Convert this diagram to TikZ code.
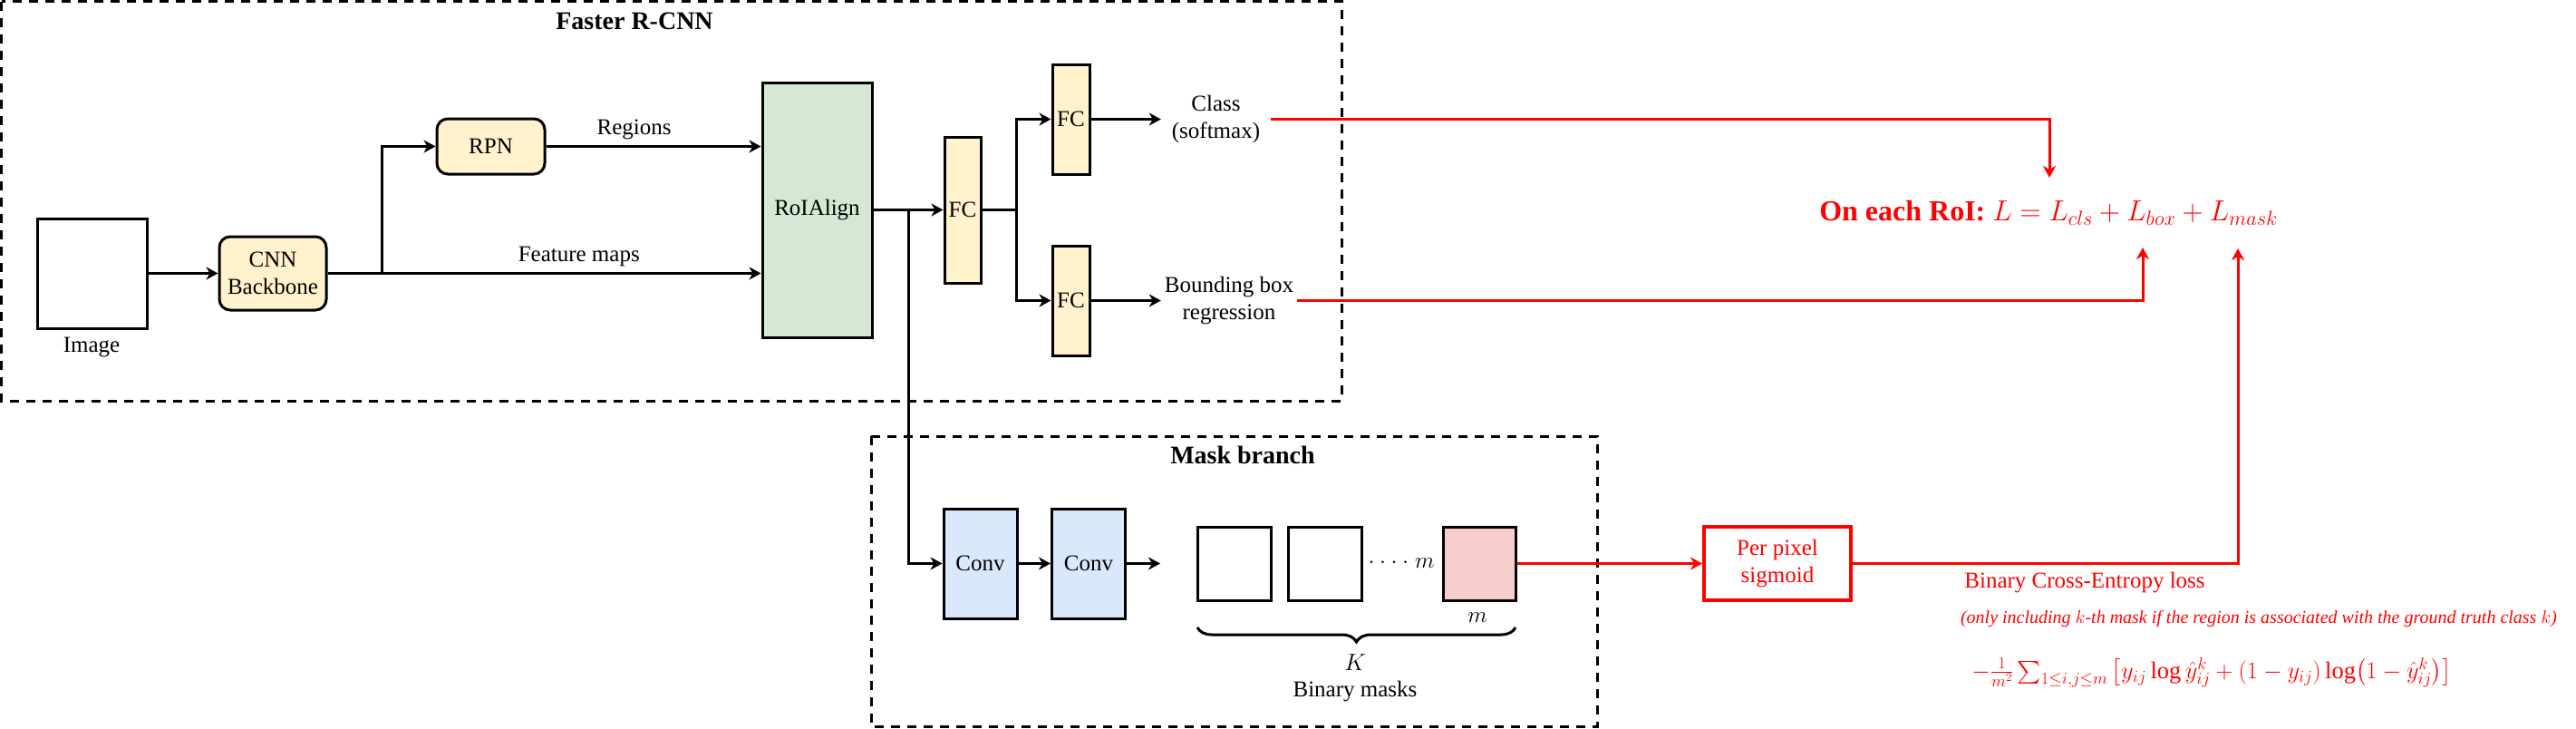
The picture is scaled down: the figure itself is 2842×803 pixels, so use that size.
\documentclass[tikz,border=0pt]{standalone}
\usepackage{fix-cm}
\usepackage{amsmath}
\usepackage{fontspec}
\setmainfont{Liberation Serif}
\usetikzlibrary{arrows.meta,decorations.pathreplacing}
\definecolor{cream}{HTML}{FFF2CC}
\definecolor{sage}{HTML}{D5E8D4}
\definecolor{skyb}{HTML}{DAE8FC}
\definecolor{rosy}{HTML}{F8CECC}
\newcommand\ftxt{\fontsize{25}{30}\selectfont}
\tikzset{
 lw/.style={line width=3pt},
 arr/.style={lw,-{Stealth[length=13pt,width=14pt,inset=4pt]}},
 rarr/.style={arr,red},
 blk/.style={draw,lw,inner sep=0pt,align=center,font=\ftxt},
 txt/.style={align=center,font=\ftxt,inner sep=0pt},
 ttl/.style={font=\bfseries\fontsize{28}{32}\selectfont,inner sep=0pt},
 grp/.style={draw,lw,dash pattern=on 10pt off 8pt},
 rtxt/.style={txt,text=red}
}
\begin{document}
\begin{tikzpicture}[x=1pt,y=-1pt]
\useasboundingbox (0,0) rectangle (2842,803);
% groups
\draw[grp] (1.5,1.5) rectangle (1480,442);
\draw[grp] (961,481) rectangle (1762,801);
\node[ttl] (t1) at (700,23) {Faster R-CNN};
\node[ttl] (t2) at (1371,502) {Mask branch};
% Faster R-CNN
\node[blk,minimum width=121,minimum height=121] (img) at (101.5,301.5) {};
\node[txt] (imgl) at (101,383) {Image};
\node[blk,fill=cream,rounded corners=12pt,minimum width=118,minimum height=81] (bbn) at (301,301.5) {CNN\\Backbone};
\node[blk,fill=cream,rounded corners=12pt,minimum width=119,minimum height=61] (rpn) at (541.5,161.5) {RPN};
\node[blk,fill=sage,minimum width=121,minimum height=281] (roi) at (901.5,231.5) {RoIAlign};
\node[blk,fill=cream,minimum width=40,minimum height=161] (fc1) at (1062,231.5) {FC};
\node[blk,fill=cream,minimum width=41,minimum height=121] (fct) at (1181.5,131.5) {FC};
\node[blk,fill=cream,minimum width=41,minimum height=121] (fcb) at (1181.5,331.5) {FC};
\node[txt,minimum width=121] (cls) at (1341.5,131.5) {Class\\(softmax)};
\node[txt,minimum width=150] (bbx) at (1356,331.5) {Bounding box\\regression};
% mask branch
\node[blk,fill=skyb,minimum width=81,minimum height=121] (cv1) at (1081.5,621.5) {Conv};
\node[blk,fill=skyb,minimum width=81,minimum height=121] (cv2) at (1201,621.5) {Conv};
\coordinate (c3) at (1280,621.5);
\node[blk,minimum width=81,minimum height=81] (m1) at (1361.5,621.5) {};
\node[blk,minimum width=81,minimum height=81] (m2) at (1461.5,621.5) {};
\node[blk,fill=rosy,minimum width=80,minimum height=81] (m3) at (1632,621.5) {};
\node[txt,font=\fontsize{25}{30}\selectfont] (dts) at (1546,621) {${\cdot}\mkern4mu{\cdot}\mkern4mu{\cdot}\mkern4mu{\cdot}\;m$};
\node[txt,font=\fontsize{25}{30}\selectfont] (mlab) at (1630,681) {$m$};
\coordinate (bl) at (1321,692);
\coordinate (br) at (1672,692);
\node[txt,font=\fontsize{26}{30}\selectfont] (kk) at (1495,731) {$K$};
\node[txt] (bm) at (1495,763) {Binary masks};
% loss part
\node[blk,draw=red,line width=4pt,text=red,minimum width=162,minimum height=81] (sig) at (1961,621.5) {Per pixel\\sigmoid};
\node[txt,text=red,font=\fontsize{32}{36}\selectfont] (loss) at (2260,235) {\textbf{On each RoI:} $L=L_{cls}+L_{box}+L_{mask}$};
\coordinate (lc) at (2261,196);
\coordinate (lb) at (2364,273);
\coordinate (lm) at (2469,274);
\node[rtxt] (bce) at (2300,643) {Binary Cross-Entropy loss};
\node[rtxt,font=\itshape\fontsize{20}{24}\selectfont] (note) at (2492,683) {(only including $k$-th mask if the region is associated with the ground truth class $k$)};
\node[rtxt,font=\fontsize{26.5}{30}\selectfont] (form) at (2440,742) {$-\frac{1}{m^2}\sum_{1\le i,j\le m}\big[y_{ij}\log\hat{y}^{k}_{ij}+(1-y_{ij})\log\bigl(1-\hat{y}^{k}_{ij}\bigr)\big]$};
% connectors
\coordinate (b1) at (421,301.5);
\draw[arr] (img) -- (bbn);
\draw[arr] (bbn.east) -- node[pos=0.58,above=6pt,txt]{Feature maps} (bbn.east -| roi.west);
\draw[arr] (b1) |- (rpn.west);
\draw[arr] (rpn.east) -- node[pos=0.41,above=6pt,txt]{Regions} (rpn.east -| roi.west);
\draw[arr] (roi) -- (fc1);
\coordinate (j) at (1002,231.5);
\coordinate (b2) at (1121,231.5);
\draw[lw] (fc1.east) -- (b2);
\draw[arr] (b2) |- (fct.west);
\draw[arr] (b2) |- (fcb.west);
\draw[arr] (fct) -- (cls);
\draw[arr] (fcb) -- (bbx);
\draw[arr] (j) |- (cv1.west);
\draw[arr] (cv1) -- (cv2);
\draw[arr] (cv2) -- (c3);
\draw[lw,decorate,decoration={brace,mirror,amplitude=16pt}] (bl) -- (br);
\draw[rarr] (m3) -- (sig);
\draw[rarr] (cls.east) -| (lc);
\draw[rarr] (bbx.east) -| (lb);
\draw[rarr] (sig.east) -| (lm);
\end{tikzpicture}
\end{document}
